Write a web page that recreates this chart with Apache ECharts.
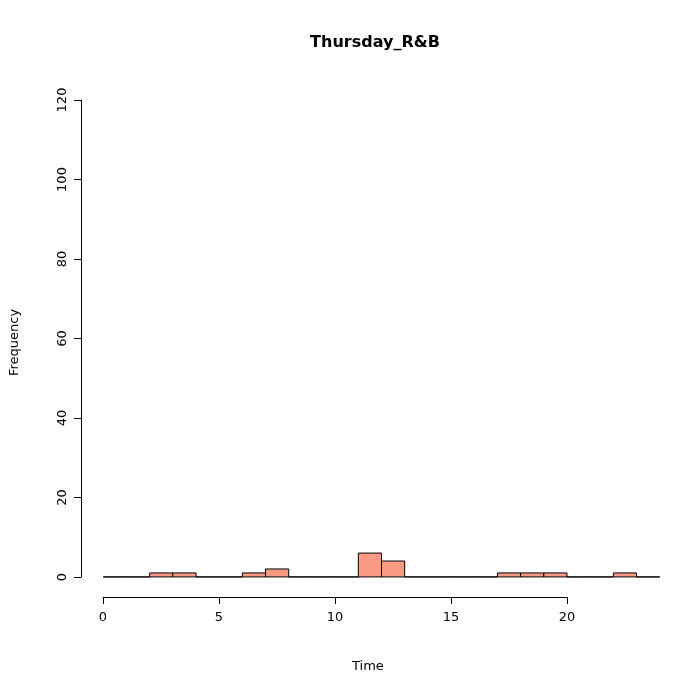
<!DOCTYPE html>
<html>
<head>
<meta charset="utf-8">
<script src="https://cdn.jsdelivr.net/npm/echarts@6/dist/echarts.min.js"></script>
<style>html,body{margin:0;padding:0;background:#fff}#c{width:699px;height:699px}</style>
</head>
<body>
<div id="c"></div>
<script>
// histogram bins: [start, end) and counts
const binStarts = [0,1,2,3,4,5,6,7,8,9,10,11,12,13,14,15,16,17,18,19,20,21,22,23];
const counts    = [0,0,1,1,0,0,1,2,0,0,0,6,4,0,0,0,0,1,1,1,0,0,1,0];
const xTicks = [0, 5, 10, 15, 20];
const yTicks = [0, 20, 40, 60, 80, 100, 120];

const font = 'DejaVu Sans';
const chart = echarts.init(document.getElementById('c'));

const data = binStarts.map((s, i) => [s, s + 1, counts[i]]);

chart.setOption({
  animation: false,
  textStyle: { fontFamily: font },
  title: {
    text: 'Thursday_R&B', left: 370, top: 30, textAlign: 'center',
    textStyle: { fontFamily: font, fontSize: 16, fontWeight: 'bold', color: '#000' }
  },
  graphic: [
    { type: 'text', left: 352, top: 660, style: { text: 'Time', font: '13px DejaVu Sans', fill: '#000' } },
    { type: 'text', x: 8, y: 376, rotation: Math.PI / 2, style: { text: 'Frequency', font: '13px DejaVu Sans', fill: '#000' } }
  ],
  grid: [
    { left: 81, right: 17, top: 81, bottom: 103 },   // plot region
    { left: 103, right: 132, top: 81, bottom: 102 }, // x axis
    { left: 81, right: 17, top: 100, bottom: 122 }   // y axis
  ],
  xAxis: [
    { gridIndex: 0, type: 'value', min: -0.96, max: 24.96, show: false },
    { gridIndex: 1, type: 'value', min: xTicks[0], max: xTicks[xTicks.length - 1], interval: 5,
      axisLine: { show: true, lineStyle: { color: '#000' } },
      axisTick: { show: true, inside: false, length: 7, lineStyle: { color: '#000' } },
      axisLabel: { color: '#000', fontSize: 13, margin: 14, fontFamily: font },
      splitLine: { show: false } },
    { gridIndex: 2, type: 'value', min: 0, max: 1, show: false }
  ],
  yAxis: [
    { gridIndex: 0, type: 'value', min: -4.8, max: 124.8, show: false },
    { gridIndex: 1, type: 'value', min: 0, max: 1, show: false },
    { gridIndex: 2, type: 'value', min: yTicks[0], max: yTicks[yTicks.length - 1], interval: 20,
      axisLine: { show: true, lineStyle: { color: '#000' } },
      axisTick: { show: true, length: 7, lineStyle: { color: '#000' } },
      axisLabel: { color: '#000', fontSize: 13, margin: 12, rotate: 90, fontFamily: font },
      splitLine: { show: false } }
  ],
  series: [{
    type: 'custom',
    xAxisIndex: 0, yAxisIndex: 0,
    data: data,
    renderItem: function (params, api) {
      const p0 = api.coord([api.value(0), 0]);
      const p1 = api.coord([api.value(1), api.value(2)]);
      return {
        type: 'rect',
        shape: { x: p0[0], y: p1[1], width: p1[0] - p0[0], height: p0[1] - p1[1] },
        style: { fill: '#FA9A85', stroke: '#000', lineWidth: 1 }
      };
    }
  }]
});
</script>
</body>
</html>
